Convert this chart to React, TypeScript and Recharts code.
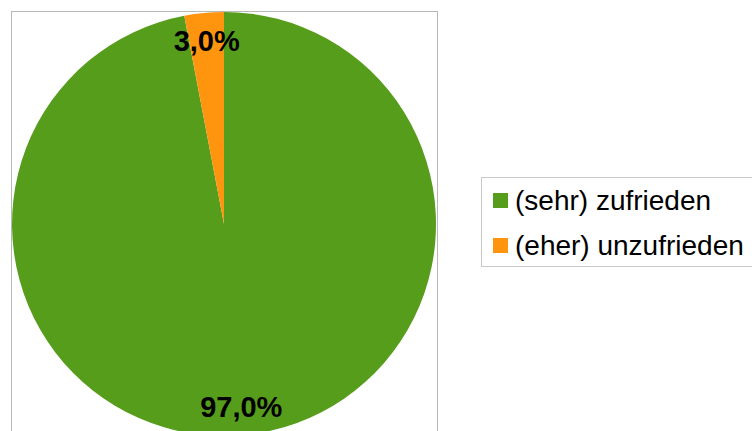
import React from 'react';
import { PieChart, Pie, Cell, Legend } from 'recharts';

const categories = ['(sehr) zufrieden', '(eher) unzufrieden'];
const shares = [97.0, 3.0];
const colors = ['#579D1C', '#FF950E'];

const data = categories.map((name, i) => ({ name, value: shares[i] }));

const RADIAN = Math.PI / 180;

const renderLabel = (props: any) => {
  const { cx, cy, midAngle, outerRadius, value } = props;
  const r = outerRadius * 0.866;
  const x = cx + r * Math.cos(-midAngle * RADIAN);
  const y = cy + r * Math.sin(-midAngle * RADIAN);
  return (
    <text
      x={x}
      y={y}
      fill="#000"
      textAnchor="middle"
      dominantBaseline="central"
      fontFamily="'Liberation Sans', Arial, sans-serif"
      fontWeight="bold"
      fontSize={29}
    >
      {value.toFixed(1).replace('.', ',')}%
    </text>
  );
};

const renderLegend = () => (
  <div
    style={{
      border: '1px solid #c8c8c8',
      width: 300,
      height: 90,
      boxSizing: 'border-box',
      paddingTop: 0,
      fontFamily: "'Liberation Sans', Arial, sans-serif",
      fontSize: 28,
      color: '#000',
    }}
  >
    {categories.map((name, i) => (
      <div key={name} style={{ display: 'flex', alignItems: 'center', height: 45 }}>
        <span
          style={{
            display: 'inline-block',
            width: 15,
            height: 15,
            background: colors[i],
            marginLeft: 11,
            marginRight: 7,
          }}
        />
        <span style={{ whiteSpace: 'nowrap', lineHeight: '45px' }}>{name}</span>
      </div>
    ))}
  </div>
);

export default function App() {
  return (
    <div style={{ position: 'absolute', left: 0, top: 0, width: 752, height: 431, overflow: 'hidden', background: '#fff' }}>
      {/* plot area frame */}
      <div
        style={{
          position: 'absolute',
          left: 11,
          top: 11,
          width: 427,
          height: 440,
          border: '1px solid #b8b8b8',
          boxSizing: 'border-box',
        }}
      />
      <PieChart
        width={752}
        height={431}
        margin={{ top: 0, right: 0, bottom: 0, left: 0 }}
        style={{ position: 'absolute', left: 0, top: 0 }}
      >
        <Pie
          data={data}
          dataKey="value"
          nameKey="name"
          cx={224}
          cy={224}
          outerRadius={212}
          startAngle={90}
          endAngle={-270}
          stroke="none"
          label={renderLabel}
          labelLine={false}
          isAnimationActive={false}
        >
          {data.map((d, i) => (
            <Cell key={d.name} fill={colors[i]} />
          ))}
        </Pie>
        <Legend
          content={renderLegend}
          wrapperStyle={{ position: 'absolute', left: 481, top: 177, width: 300, height: 90 }}
        />
      </PieChart>
    </div>
  );
}
